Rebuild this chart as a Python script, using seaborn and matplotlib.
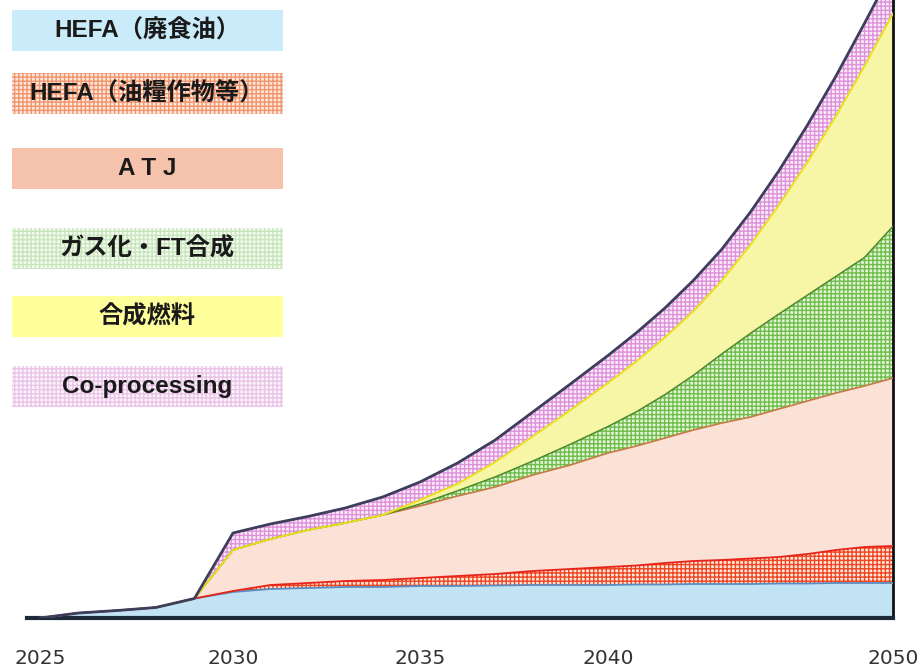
import numpy as np
import pandas as pd
import matplotlib
matplotlib.use("Agg")
import matplotlib.pyplot as plt
import seaborn as sns
from matplotlib.patches import Rectangle

sns.set_theme(style="white")
plt.rcParams["font.family"] = ["Noto Sans CJK JP", "DejaVu Sans"]
plt.rcParams["hatch.linewidth"] = 1.0

# ---- data: supply by pathway (stacked, arbitrary units) ----
years = list(range(2025, 2051))
categories = ["HEFA（廃食油）", "HEFA（油糧作物等）", "A T J",
              "ガス化・FT合成", "合成燃料", "Co-processing"]

hefa_waste = [0, 5, 7.5, 10.5, 19.5, 26, 29, 30, 31, 31, 32, 32, 32.5, 33, 33,
              33, 33.5, 33.5, 34, 34, 34, 34.5, 34.5, 35, 35, 35]
hefa_crops = [0, 0, 0, 0, 0, 1, 4, 5, 6, 7, 8, 10, 11.5, 14, 16,
              18, 19, 21.5, 23, 24, 25.5, 26.5, 29.5, 33, 36, 37]
atj = [0, 0, 0, 0, 0, 41, 46, 53, 58, 65, 72, 80, 87, 96, 104,
       114, 119.5, 125, 131, 137, 141.5, 148, 153, 157, 161, 168]
gas_ft = [0, 0, 0, 0, 0, 0, 0, 0, 0, 0, 2, 5.2, 10.1, 13.9, 20.8,
          26.5, 34.3, 43.4, 54.8, 69.2, 83.7, 95.1, 105.9, 116.7, 128.5, 151.8]
efuel = [0, 0, 0, 0, 0, 0, 0, 0, 0, 0, 4, 7, 14.9, 24.7, 34.1,
         43.5, 50.4, 57.2, 64, 73.4, 88.5, 109, 133, 160.3, 191.4, 212.8]
coproc = [0, 0, 0, 0, 0, 17, 15, 13.5, 15, 18, 18, 20.8, 22, 24.4, 26.1,
          27.5, 28.6, 29.4, 30.9, 31.4, 32.8, 34.3, 37.1, 40, 42.8, 44.2]

tick_years = [2025, 2030, 2035, 2040, 2050]
tick_labels = ["2025", "2030", "2035", "2040", "2050"]

# ---- styling ----
fill_styles = [
    dict(facecolor="#c2e3f4", edgecolor="none", hatch=None),
    dict(facecolor="#fde6da", edgecolor="#ee4622", hatch="++++"),
    dict(facecolor="#fbe1d6", edgecolor="none", hatch=None),
    dict(facecolor="#e4f4d9", edgecolor="#6fbd4a", hatch="++++"),
    dict(facecolor="#f7f6a6", edgecolor="none", hatch=None),
    dict(facecolor="#fbecf9", edgecolor="#de92da", hatch="++++"),
]
edge_lines = [
    ("#5a8dbf", 1.3),
    ("#e8231a", 1.3),
    ("#c77a45", 1.2),
    ("#4e8a2c", 1.1),
    ("#e8e21a", 1.4),
    ("#3d3d5c", 2.0),
]
legend_styles = [
    dict(facecolor="#c9ebfa", edgecolor="none", hatch=None),
    dict(facecolor="#fde8dc", edgecolor="#f0956e", hatch="++++"),
    dict(facecolor="#f5c3ab", edgecolor="none", hatch=None),
    dict(facecolor="#f4faf0", edgecolor="#c8e6bb", hatch="++++"),
    dict(facecolor="#ffff9c", edgecolor="none", hatch=None),
    dict(facecolor="#fcf3fb", edgecolor="#eac4e8", hatch="++++"),
]

df = pd.DataFrame({"year": years, "hefa_waste": hefa_waste, "hefa_crops": hefa_crops,
                   "atj": atj, "gas_ft": gas_ft, "efuel": efuel, "coproc": coproc})
layer_cols = ["hefa_waste", "hefa_crops", "atj", "gas_ft", "efuel", "coproc"]
cum = df[layer_cols].cumsum(axis=1)
cum.insert(0, "year", df["year"])

# ---- x axis: piecewise-linear year spacing ----
knot_years = np.array([2025, 2030, 2035, 2040, 2050], float)
knot_pos = np.array([0, 193, 380, 568, 853], float)


def _pw(x, xp, fp):
    x = np.asarray(x, float)
    y = np.interp(x, xp, fp)
    lo_slope = (fp[1] - fp[0]) / (xp[1] - xp[0])
    hi_slope = (fp[-1] - fp[-2]) / (xp[-1] - xp[-2])
    y = np.where(x < xp[0], fp[0] + (x - xp[0]) * lo_slope, y)
    y = np.where(x > xp[-1], fp[-1] + (x - xp[-1]) * hi_slope, y)
    return y


def fwd(x):
    return _pw(x, knot_years, knot_pos)


def inv(p):
    return _pw(p, knot_pos, knot_years)


W, H = 921, 666
fig = plt.figure(figsize=(W / 100, H / 100), dpi=100)
ax = fig.add_axes([27 / W, 48 / H, 866 / W, 618 / H])
ax.set_xscale("function", functions=(fwd, inv))

lower = np.zeros(len(years))
for col, st in zip(layer_cols, fill_styles):
    upper = cum[col].to_numpy()
    ax.fill_between(years, lower, upper, facecolor=st["facecolor"],
                    edgecolor=st["edgecolor"], hatch=st["hatch"], linewidth=0,
                    zorder=1)
    lower = upper

for col, (c, lw) in zip(layer_cols, edge_lines):
    sns.lineplot(data=cum, x="year", y=col, ax=ax, color=c, linewidth=lw,
                 legend=False, zorder=3)

ax.set_xlim(inv(-13.0).item(), 2050)
ax.set_ylim(0, 618)
ax.set_xlabel("")
ax.set_ylabel("")
ax.set_yticks([])
ax.set_xticks(tick_years, labels=tick_labels, fontfamily="DejaVu Sans")
ax.tick_params(axis="x", length=0, pad=22, labelsize=14.5, labelcolor="#333333")
ax.grid(False)
for side in ("left", "top"):
    ax.spines[side].set_visible(False)
ax.spines["bottom"].set_color("#1c2a3a")
ax.spines["bottom"].set_linewidth(3)
ax.spines["right"].set_color("#111111")
ax.spines["right"].set_linewidth(2)
ax.set_facecolor("white")

# ---- legend boxes on the upper left ----
box_tops = [10, 73, 148, 228, 296, 366]
box_h = 41
box_x0, box_x1 = 12, 283
for label, top, st in zip(categories, box_tops, legend_styles):
    rect = Rectangle((box_x0 / W, 1 - (top + box_h) / H), (box_x1 - box_x0) / W, box_h / H,
                     transform=fig.transFigure, facecolor=st["facecolor"],
                     edgecolor=st["edgecolor"], hatch=st["hatch"], linewidth=0, zorder=5)
    fig.add_artist(rect)
    fig.text(147 / W, 1 - (top + box_h / 2) / H, label, ha="center", va="center",
             fontsize=17.5, fontweight="bold", color="#1a1a1a", zorder=6,
             family=["Liberation Sans", "Noto Sans CJK JP"])

fig.savefig("out.png", dpi=100, facecolor="white")
